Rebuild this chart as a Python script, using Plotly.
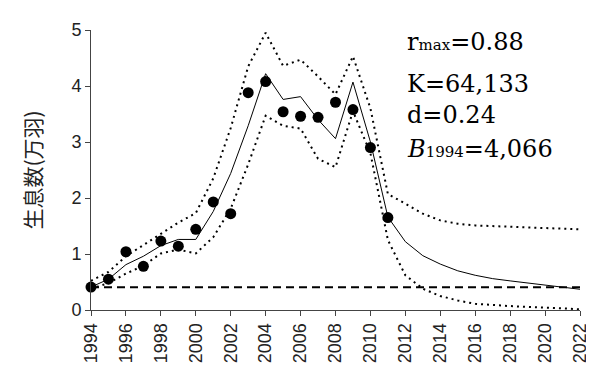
import plotly.graph_objects as go

years_obs = list(range(1994, 2012))
obs = [0.41, 0.55, 1.04, 0.78, 1.23, 1.14, 1.44, 1.93, 1.72, 3.88,
       4.08, 3.54, 3.46, 3.44, 3.71, 3.58, 2.90, 1.65]

years_model = list(range(1994, 2023))
model_mean = [0.41, 0.55, 0.81, 0.96, 1.15, 1.26, 1.26, 1.76, 2.44, 3.29,
              4.22, 3.76, 3.81, 3.40, 3.06, 4.07, 3.00, 1.66, 1.22, 0.97,
              0.82, 0.70, 0.62, 0.56, 0.52, 0.48, 0.44, 0.40, 0.37]
upper = [0.52, 0.68, 0.96, 1.16, 1.36, 1.56, 1.73, 2.35, 3.25, 4.35,
         4.95, 4.36, 4.47, 4.17, 3.85, 4.53, 3.60, 2.07, 1.90, 1.72,
         1.60, 1.54, 1.51, 1.50, 1.49, 1.47, 1.46, 1.45, 1.44]
lower = [0.38, 0.48, 0.65, 0.79, 1.01, 1.08, 1.01, 1.30, 1.81, 2.60,
         3.47, 3.29, 3.24, 2.70, 2.55, 3.55, 2.80, 1.25, 0.62, 0.38,
         0.25, 0.17, 0.11, 0.085, 0.07, 0.055, 0.045, 0.03, 0.01]
b1994 = 0.4066
baseline = [b1994] * len(years_model)

x_ticks = list(range(1994, 2023, 2))
y_ticks = [0, 1, 2, 3, 4, 5]

fig = go.Figure()
fig.add_trace(go.Scatter(x=years_model, y=baseline, mode="lines",
                         line=dict(color="black", width=2, dash="8px,5px"),
                         cliponaxis=False, showlegend=False))
fig.add_trace(go.Scatter(x=years_model, y=upper, mode="lines",
                         line=dict(color="black", width=2, dash="2px,4px"),
                         cliponaxis=False, showlegend=False))
fig.add_trace(go.Scatter(x=years_model, y=lower, mode="lines",
                         line=dict(color="black", width=2, dash="2px,4px"),
                         cliponaxis=False, showlegend=False))
fig.add_trace(go.Scatter(x=years_model, y=model_mean, mode="lines",
                         line=dict(color="black", width=1),
                         cliponaxis=False, showlegend=False))
fig.add_trace(go.Scatter(x=years_obs, y=obs, mode="markers",
                         marker=dict(color="black", size=11),
                         cliponaxis=False, showlegend=False))

serif = "DejaVu Serif"
ann_font = dict(family=serif, size=24, color="black")
texts = [
    ("r<span style='font-size:15px'>max</span>=0.88", 4.79),
    ("K=64,133", 4.04),
    ("d=0.24", 3.48),
    ("<i>B</i><span style='font-size:15px'>1994</span>=4,066", 2.87),
]
for t, yv in texts:
    fig.add_annotation(x=2012.0, y=yv, xref="x", yref="y", text=t,
                       showarrow=False, xanchor="left", yanchor="middle",
                       font=ann_font)

fig.update_layout(
    width=594, height=367,
    margin=dict(l=83, r=13, t=16, b=57),
    paper_bgcolor="white", plot_bgcolor="white",
    font=dict(family="Liberation Sans, Arial", color="#222"),
)
fig.update_xaxes(
    range=[1994, 2022], tickmode="array", tickvals=x_ticks,
    ticktext=[str(v) for v in x_ticks], tickangle=-90,
    showline=True, linecolor="#444", linewidth=1,
    ticks="outside", ticklen=5, tickcolor="#444",
    showgrid=False, zeroline=False, tickfont=dict(size=18),
)
fig.update_yaxes(
    range=[0, 5], tickmode="array", tickvals=y_ticks,
    showline=True, linecolor="#444", linewidth=1,
    ticks="outside", ticklen=5, tickcolor="#444",
    showgrid=False, zeroline=False, tickfont=dict(size=18),
    title=dict(text="生息数(万羽)", standoff=24,
               font=dict(family="Noto Sans CJK JP", size=21, color="#222")),
)

fig.write_html("out.html")
